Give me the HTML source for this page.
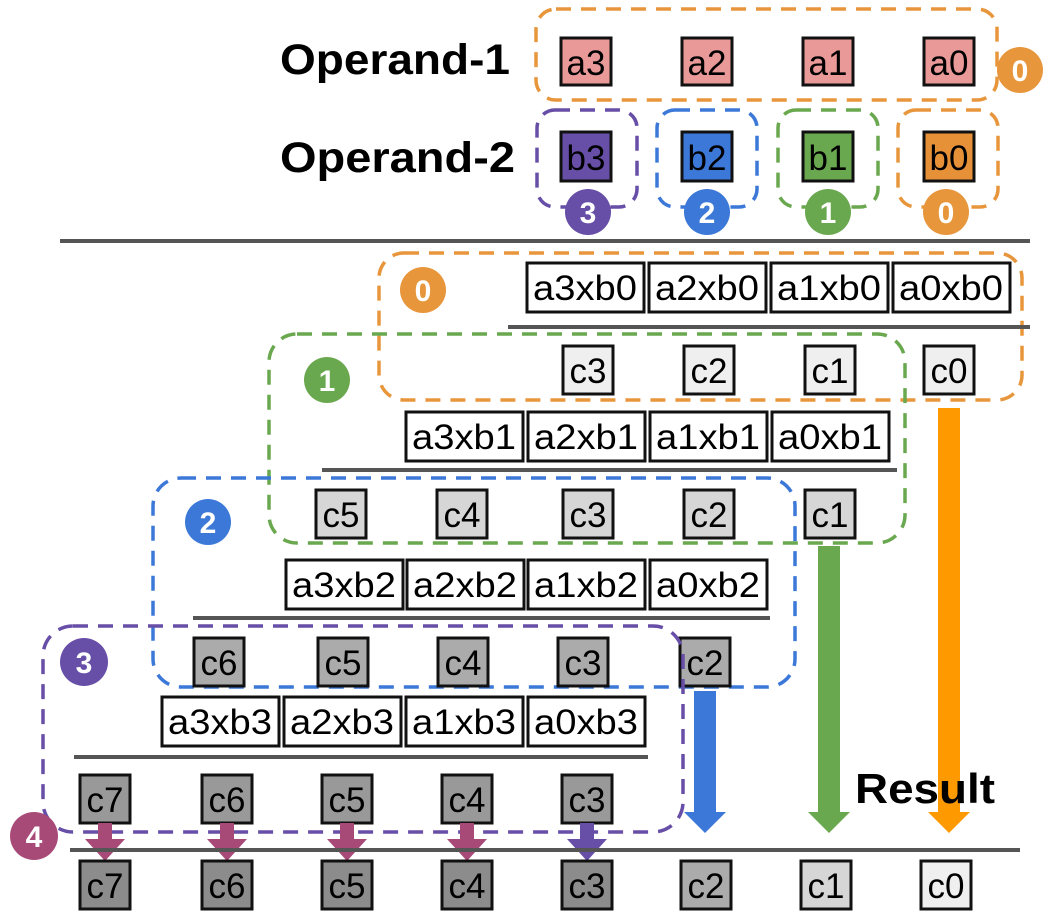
<!DOCTYPE html>
<html><head><meta charset="utf-8"><style>
html,body{margin:0;padding:0;background:#fff;}
svg{display:block;}
text{font-family:"Liberation Sans",sans-serif;}
</style></head><body>
<svg width="1058" height="916" viewBox="0 0 1058 916" xmlns="http://www.w3.org/2000/svg">
<defs>
<style>
.bx{stroke:#111;stroke-width:3;}
.t{font-size:35px;text-anchor:middle;fill:#000;}
.p{font-size:35px;text-anchor:middle;fill:#000;}
.ct{font-size:30px;font-weight:bold;text-anchor:middle;fill:#fff;}
.ln{stroke:#555;stroke-width:4;}
.d{fill:none;stroke-width:3.5;stroke-dasharray:15 10;}
</style>
</defs>

<text x="280" y="74" font-size="43" font-weight="bold" textLength="230" lengthAdjust="spacingAndGlyphs">Operand-1</text>
<text x="280" y="172" font-size="43" font-weight="bold" textLength="235" lengthAdjust="spacingAndGlyphs">Operand-2</text>

<!-- operand 1 -->
<rect class="d" x="536" y="9" width="461" height="91" rx="20" stroke="#e8963c"/>
<g fill="#ea9999">
<rect class="bx" x="561" y="38" width="50" height="47"/>
<rect class="bx" x="682" y="38" width="50" height="47"/>
<rect class="bx" x="803" y="38" width="50" height="47"/>
<rect class="bx" x="924" y="38" width="50" height="47"/>
</g>
<text class="t" x="586" y="75">a3</text><text class="t" x="707" y="75">a2</text><text class="t" x="828" y="75">a1</text><text class="t" x="949" y="75">a0</text>
<circle cx="1020" cy="70" r="23" fill="#e8963c"/><text class="ct" x="1020" y="81">0</text>

<!-- operand 2 -->
<rect class="d" x="537" y="110" width="100" height="97" rx="18" stroke="#674ea7"/>
<rect class="d" x="657" y="110" width="100" height="97" rx="18" stroke="#3c78d8"/>
<rect class="d" x="778" y="110" width="100" height="97" rx="18" stroke="#6aa84f"/>
<rect class="d" x="898" y="110" width="100" height="97" rx="18" stroke="#e8963c"/>
<rect class="bx" x="561" y="132" width="50" height="49" fill="#674ea7"/>
<rect class="bx" x="682" y="132" width="50" height="49" fill="#3c78d8"/>
<rect class="bx" x="803" y="132" width="50" height="49" fill="#6aa84f"/>
<rect class="bx" x="924" y="132" width="50" height="49" fill="#e69138"/>
<text class="t" x="586" y="170">b3</text><text class="t" x="707" y="170">b2</text><text class="t" x="828" y="170">b1</text><text class="t" x="949" y="170">b0</text>
<circle cx="588" cy="212" r="23" fill="#674ea7"/><text class="ct" x="588" y="223">3</text>
<circle cx="707" cy="212" r="23" fill="#3c78d8"/><text class="ct" x="707" y="223">2</text>
<circle cx="828" cy="212" r="23" fill="#6aa84f"/><text class="ct" x="828" y="223">1</text>
<circle cx="946" cy="212" r="23" fill="#e8963c"/><text class="ct" x="946" y="223">0</text>

<line class="ln" x1="60" y1="241" x2="1030" y2="241"/>

<!-- big arrows -->
<g>
<rect x="938" y="408" width="22" height="406" fill="#ff9900"/><polygon points="928,812 970,812 949,833" fill="#ff9900"/>
<rect x="818" y="546" width="22" height="268" fill="#6aa84f"/><polygon points="808,812 850,812 829,833" fill="#6aa84f"/>
<rect x="694" y="691" width="22" height="123" fill="#3c78d8"/><polygon points="684,812 726,812 705,833" fill="#3c78d8"/>
</g>

<!-- stage 0 -->
<rect class="d" x="379" y="253" width="643" height="147" rx="25" stroke="#e8963c"/>
<circle cx="423" cy="290" r="23" fill="#e8963c"/><text class="ct" x="423" y="301">0</text>
<g fill="#fff">
<rect class="bx" x="527" y="263" width="117" height="49"/><rect class="bx" x="649" y="263" width="117" height="49"/>
<rect class="bx" x="771" y="263" width="117" height="49"/><rect class="bx" x="893" y="263" width="117" height="49"/>
</g>
<g class="p">
<text class="p" x="585" y="300" textLength="104" lengthAdjust="spacingAndGlyphs">a3xb0</text><text class="p" x="707" y="300" textLength="104" lengthAdjust="spacingAndGlyphs">a2xb0</text><text class="p" x="829" y="300" textLength="104" lengthAdjust="spacingAndGlyphs">a1xb0</text><text class="p" x="951" y="300" textLength="104" lengthAdjust="spacingAndGlyphs">a0xb0</text>
</g>
<line class="ln" x1="508" y1="327" x2="1030" y2="327"/>
<g fill="#efefef">
<rect class="bx" x="563" y="346" width="50" height="48"/><rect class="bx" x="684" y="346" width="50" height="48"/>
<rect class="bx" x="805" y="346" width="50" height="48"/><rect class="bx" x="924" y="346" width="50" height="48"/>
</g>
<text class="t" x="588" y="383">c3</text><text class="t" x="709" y="383">c2</text><text class="t" x="830" y="383">c1</text><text class="t" x="949" y="383">c0</text>

<!-- stage 1 -->
<rect class="d" x="269" y="334" width="636" height="209" rx="28" stroke="#6aa84f"/>
<circle cx="327" cy="380" r="23" fill="#6aa84f"/><text class="ct" x="327" y="391">1</text>
<g fill="#fff">
<rect class="bx" x="406" y="412" width="117" height="49"/><rect class="bx" x="528" y="412" width="117" height="49"/>
<rect class="bx" x="650" y="412" width="117" height="49"/><rect class="bx" x="772" y="412" width="117" height="49"/>
</g>
<text class="p" x="464" y="449" textLength="104" lengthAdjust="spacingAndGlyphs">a3xb1</text><text class="p" x="586" y="449" textLength="104" lengthAdjust="spacingAndGlyphs">a2xb1</text><text class="p" x="708" y="449" textLength="104" lengthAdjust="spacingAndGlyphs">a1xb1</text><text class="p" x="830" y="449" textLength="104" lengthAdjust="spacingAndGlyphs">a0xb1</text>
<line class="ln" x1="322" y1="470" x2="897" y2="470"/>
<g fill="#d6d6d6">
<rect class="bx" x="316" y="490" width="50" height="48"/><rect class="bx" x="437" y="490" width="50" height="48"/>
<rect class="bx" x="563" y="490" width="50" height="48"/><rect class="bx" x="684" y="490" width="50" height="48"/>
<rect class="bx" x="805" y="490" width="50" height="48"/>
</g>
<text class="t" x="341" y="527">c5</text><text class="t" x="462" y="527">c4</text><text class="t" x="588" y="527">c3</text><text class="t" x="709" y="527">c2</text><text class="t" x="830" y="527">c1</text>

<!-- stage 2 -->
<rect class="d" x="153" y="478" width="642" height="209" rx="28" stroke="#3c78d8"/>
<circle cx="208" cy="522" r="23" fill="#3c78d8"/><text class="ct" x="208" y="533">2</text>
<g fill="#fff">
<rect class="bx" x="286" y="560" width="117" height="49"/><rect class="bx" x="407" y="560" width="117" height="49"/>
<rect class="bx" x="528" y="560" width="117" height="49"/><rect class="bx" x="650" y="560" width="117" height="49"/>
</g>
<text class="p" x="344" y="597" textLength="104" lengthAdjust="spacingAndGlyphs">a3xb2</text><text class="p" x="465" y="597" textLength="104" lengthAdjust="spacingAndGlyphs">a2xb2</text><text class="p" x="586" y="597" textLength="104" lengthAdjust="spacingAndGlyphs">a1xb2</text><text class="p" x="708" y="597" textLength="104" lengthAdjust="spacingAndGlyphs">a0xb2</text>
<line class="ln" x1="193" y1="618" x2="770" y2="618"/>
<g fill="#ababab">
<rect class="bx" x="194" y="638" width="50" height="48"/><rect class="bx" x="318" y="638" width="50" height="48"/>
<rect class="bx" x="438" y="638" width="50" height="48"/><rect class="bx" x="558" y="638" width="50" height="48"/>
<rect class="bx" x="680" y="638" width="50" height="48"/>
</g>
<text class="t" x="219" y="675">c6</text><text class="t" x="343" y="675">c5</text><text class="t" x="463" y="675">c4</text><text class="t" x="583" y="675">c3</text><text class="t" x="705" y="675">c2</text>

<!-- stage 3 -->
<rect class="d" x="43" y="626" width="640" height="206" rx="30" stroke="#674ea7"/>
<circle cx="84" cy="662" r="24" fill="#674ea7"/><text class="ct" x="84" y="673">3</text>
<g fill="#fff">
<rect class="bx" x="162" y="697" width="117" height="49"/><rect class="bx" x="284" y="697" width="117" height="49"/>
<rect class="bx" x="406" y="697" width="117" height="49"/><rect class="bx" x="528" y="697" width="117" height="49"/>
</g>
<text class="p" x="220" y="734" textLength="104" lengthAdjust="spacingAndGlyphs">a3xb3</text><text class="p" x="342" y="734" textLength="104" lengthAdjust="spacingAndGlyphs">a2xb3</text><text class="p" x="464" y="734" textLength="104" lengthAdjust="spacingAndGlyphs">a1xb3</text><text class="p" x="586" y="734" textLength="104" lengthAdjust="spacingAndGlyphs">a0xb3</text>
<line class="ln" x1="74" y1="757" x2="648" y2="757"/>
<g fill="#999">
<rect class="bx" x="80" y="775" width="50" height="48"/><rect class="bx" x="202" y="775" width="50" height="48"/>
<rect class="bx" x="322" y="775" width="50" height="48"/><rect class="bx" x="442" y="775" width="50" height="48"/>
<rect class="bx" x="562" y="775" width="50" height="48"/>
</g>
<text class="t" x="105" y="812">c7</text><text class="t" x="227" y="812">c6</text><text class="t" x="347" y="812">c5</text><text class="t" x="467" y="812">c4</text><text class="t" x="587" y="812">c3</text>

<!-- small arrows -->
<g fill="#a84a78">
<rect x="98" y="823" width="14" height="18"/><polygon points="85,839 125,839 105,861"/>
<rect x="220" y="823" width="14" height="18"/><polygon points="207,839 247,839 227,861"/>
<rect x="340" y="823" width="14" height="18"/><polygon points="327,839 367,839 347,861"/>
<rect x="460" y="823" width="14" height="18"/><polygon points="447,839 487,839 467,861"/>
</g>
<rect x="580" y="823" width="14" height="18" fill="#674ea7"/><polygon points="567,839 607,839 587,861" fill="#674ea7"/>
<circle cx="34" cy="836" r="24" fill="#a84a78"/><text class="ct" x="34" y="847">4</text>

<text x="855" y="803" font-size="42" font-weight="bold" textLength="140" lengthAdjust="spacingAndGlyphs">Result</text>
<line class="ln" x1="70" y1="850" x2="1020" y2="850"/>

<!-- result -->
<g fill="#8c8c8c">
<rect class="bx" x="80" y="861" width="50" height="48"/><rect class="bx" x="202" y="861" width="50" height="48"/>
<rect class="bx" x="322" y="861" width="50" height="48"/><rect class="bx" x="442" y="861" width="50" height="48"/>
<rect class="bx" x="562" y="861" width="50" height="48"/>
</g>
<rect class="bx" x="681" y="861" width="50" height="48" fill="#ababab"/>
<rect class="bx" x="801" y="861" width="50" height="48" fill="#d6d6d6"/>
<rect class="bx" x="921" y="861" width="50" height="48" fill="#efefef"/>
<text class="t" x="105" y="898">c7</text><text class="t" x="227" y="898">c6</text><text class="t" x="347" y="898">c5</text><text class="t" x="467" y="898">c4</text><text class="t" x="587" y="898">c3</text>
<text class="t" x="706" y="898">c2</text><text class="t" x="826" y="898">c1</text><text class="t" x="946" y="898">c0</text>
</svg>
</body></html>
